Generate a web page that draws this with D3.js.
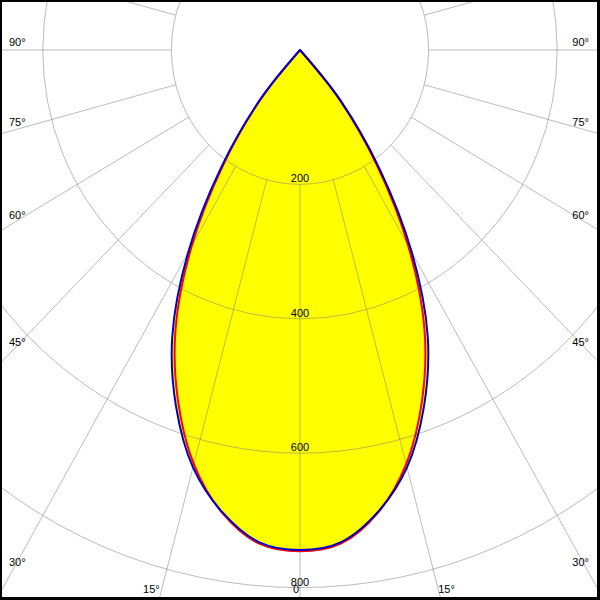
<!DOCTYPE html>
<html>
<head>
<meta charset="utf-8">
<script src="https://cdn.jsdelivr.net/npm/d3@7"></script>
<style>
html,body{margin:0;padding:0;background:#fff;}
svg{display:block;}
text{font-family:"Liberation Sans",Arial,sans-serif;font-size:11px;fill:#000;}
</style>
</head>
<body>
<svg id="chart" width="600" height="600"></svg>
<script>
// ---- data ----
const angles = [0, 5, 10, 15, 20, 25, 30, 35, 40, 45, 50, 55, 60, 65, 70, 75, 80, 85, 90];
const blueSeries = [744, 735, 698, 643, 564, 470, 348, 215, 97, 0, 0, 0, 0, 0, 0, 0, 0, 0, 0];
const redSeries  = [746, 737, 699, 638, 555, 458, 337, 207, 93, 0, 0, 0, 0, 0, 0, 0, 0, 0, 0];
const ringValues = [200, 400, 600, 800, 1000];
const ringLabels = ["200", "400", "600", "800"];
const spokeAngles = d3.range(-180, 180, 15);
const sideLabels = [90, 75, 60, 45, 30];
const bottomLabels = [15, 0];

// ---- layout ----
const W = 600, H = 600;
const cx = 300, cy = 50;
const rx = d3.scaleLinear().domain([0, 1000]).range([0, 643]);
const ry = d3.scaleLinear().domain([0, 1000]).range([0, 672]);
const rad = d => d * Math.PI / 180;
const px = (a, v) => cx + rx(v) * Math.sin(rad(a));
const py = (a, v) => cy + ry(v) * Math.cos(rad(a));

const svg = d3.select("#chart");
svg.append("rect").attr("width", W).attr("height", H).attr("fill", "#000");
svg.append("rect").attr("x", 2).attr("y", 2).attr("width", 595).attr("height", 595).attr("fill", "#fff");
svg.append("defs").append("clipPath").attr("id", "clip")
  .append("rect").attr("x", 2).attr("y", 2).attr("width", 595).attr("height", 595);

const g = svg.append("g").attr("clip-path", "url(#clip)");

function curvePoints(series) {
  const pts = [];
  for (let i = angles.length - 1; i >= 0; i--) pts.push([px(-angles[i], series[i]), py(-angles[i], series[i])]);
  for (let i = 1; i < angles.length; i++) pts.push([px(angles[i], series[i]), py(angles[i], series[i])]);
  return pts.filter((p, i) => i === 0 || Math.hypot(p[0] - pts[i - 1][0], p[1] - pts[i - 1][1]) > 0.01);
}
const line = d3.line().curve(d3.curveCatmullRom.alpha(0.5));

// fill
g.append("path").attr("d", line(curvePoints(blueSeries)) + "Z")
  .attr("fill", "#ffff00").attr("stroke", "none");

// grid
const grid = g.append("g").attr("stroke", "#7a7a7a").attr("stroke-opacity", 0.5).attr("fill", "none").attr("stroke-width", 1);
grid.selectAll("ellipse").data(ringValues).join("ellipse")
  .attr("cx", cx).attr("cy", cy).attr("rx", d => rx(d)).attr("ry", d => ry(d));
grid.selectAll("line").data(spokeAngles).join("line")
  .attr("x1", d => px(d, 200)).attr("y1", d => py(d, 200))
  .attr("x2", d => px(d, 2000)).attr("y2", d => py(d, 2000));

// curves
g.append("path").attr("d", line(curvePoints(redSeries)) + "Z")
  .attr("fill", "none").attr("stroke", "#ff0000").attr("stroke-width", 2).attr("stroke-linejoin", "round");
g.append("path").attr("d", line(curvePoints(blueSeries)) + "Z")
  .attr("fill", "none").attr("stroke", "#0000c8").attr("stroke-width", 2).attr("stroke-linejoin", "round");

// ring labels
svg.selectAll("text.ring").data(ringLabels).join("text").attr("class", "ring")
  .attr("x", cx).attr("y", d => py(0, +d) - 2).attr("text-anchor", "middle").text(d => d);

// side angle labels
const ratio = (672 / 643);
function yAtX(a, dx) {
  if (a === 90) return cy;
  return cy + dx * ratio / Math.tan(rad(a));
}
svg.selectAll("text.sideL").data(sideLabels).join("text").attr("class", "sideL")
  .attr("x", 9).attr("y", d => yAtX(d, cx - 13) - 4).attr("text-anchor", "start").text(d => d + "°");
svg.selectAll("text.sideR").data(sideLabels).join("text").attr("class", "sideR")
  .attr("x", 589).attr("y", d => yAtX(d, cx - 13) - 4).attr("text-anchor", "end").text(d => d + "°");

// bottom angle labels
function xAtBottom(a) { return (597 - cy) * Math.tan(rad(a)) / ratio; }
svg.selectAll("text.botL").data(bottomLabels).join("text").attr("class", "botL")
  .attr("x", d => cx - xAtBottom(d) - (d === 0 ? 1 : 0)).attr("y", 593).attr("text-anchor", "end")
  .text(d => d === 0 ? "0" : d + "°");
svg.selectAll("text.botR").data(bottomLabels.filter(d => d !== 0)).join("text").attr("class", "botR")
  .attr("x", d => cx + xAtBottom(d) - 2).attr("y", 593).attr("text-anchor", "start").text(d => d + "°");
</script>
</body>
</html>
